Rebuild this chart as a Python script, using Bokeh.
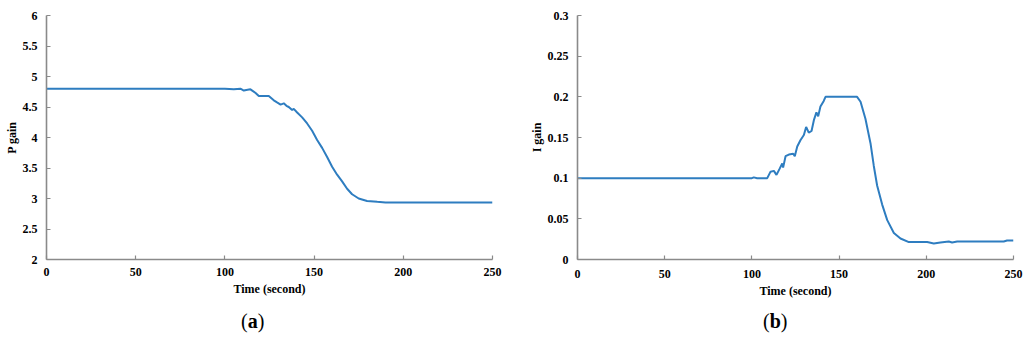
from bokeh.plotting import figure
from bokeh.layouts import row, column
from bokeh.models import Range1d, FixedTicker, CustomJSTickFormatter, Div
from bokeh.embed import file_html
from bokeh.resources import INLINE

# ---- data: panel (a) P gain ----
t_a = [0, 100, 105, 108.7, 110.6, 112, 114.3, 117.2, 119, 122, 124.6, 127.4, 129, 131.2,
       133, 134.5, 135.8, 137.7, 138.6, 140.5, 143.3, 146.1, 148.9, 151.7, 154.5, 157.3,
       160.1, 162.9, 165.7, 168.5, 171.3, 175, 179.7, 185.4, 190, 250]
p_a = [4.8, 4.8, 4.79, 4.8, 4.77, 4.78, 4.79, 4.73, 4.68, 4.68, 4.68, 4.61, 4.58, 4.54,
       4.56, 4.52, 4.50, 4.45, 4.47, 4.41, 4.33, 4.23, 4.11, 3.96, 3.83, 3.68,
       3.52, 3.39, 3.28, 3.16, 3.07, 3.00, 2.96, 2.945, 2.935, 2.935]

# ---- data: panel (b) I gain ----
t_b = [0, 100, 101.1, 103, 105, 108.8, 110.7, 112.6, 114.1, 116, 117.4, 117.9,
       119.3, 121.2, 123.7, 124.6, 126, 127.9, 129.8, 131.1, 132.6, 134.2, 135.5, 137,
       138, 139.3, 141.2, 142.2, 160.3, 162.3, 165.1, 168, 169.9, 171.8, 174.7, 177.6,
       181.4, 185.2, 190, 200.5, 204.3, 208.1, 212.9, 214.8, 217.7, 244.4, 246.3, 250]
i_b = [0.1, 0.1, 0.101, 0.1, 0.1, 0.1, 0.108, 0.109, 0.104, 0.112, 0.118, 0.113,
       0.127, 0.129, 0.130, 0.127, 0.139, 0.147, 0.153, 0.163, 0.156, 0.158, 0.171, 0.181,
       0.176, 0.188, 0.195, 0.2, 0.2, 0.194, 0.173, 0.143, 0.115, 0.091, 0.0675, 0.0484,
       0.0325, 0.0258, 0.0214, 0.0214, 0.0198, 0.021, 0.0222, 0.021, 0.022, 0.0222, 0.0234, 0.0234]

x_ticks = [0, 50, 100, 150, 200, 250]
y_ticks_a = [2, 2.5, 3, 3.5, 4, 4.5, 5, 5.5, 6]
y_ticks_b = [0, 0.05, 0.1, 0.15, 0.2, 0.25, 0.3]

FONT = "Liberation Serif"
LINE = "#2e7dc0"
AXIS = "#8a8a8a"


def style(p, yticks, xlab_standoff):
    p.outline_line_color = None
    p.xgrid.visible = False
    p.ygrid.visible = False
    p.background_fill_color = "white"
    p.border_fill_color = "white"
    p.xaxis.ticker = FixedTicker(ticks=x_ticks)
    p.yaxis.ticker = FixedTicker(ticks=yticks)
    p.yaxis.formatter = CustomJSTickFormatter(code="return tick.toString()")
    for ax in (p.xaxis[0], p.yaxis[0]):
        ax.axis_line_color = AXIS
        ax.axis_line_width = 1.6
        ax.major_tick_line_color = AXIS
        ax.major_tick_line_width = 1.2
        ax.major_tick_in = 4
        ax.major_tick_out = 0
        ax.minor_tick_line_color = None
        ax.major_label_text_font = FONT
        ax.major_label_text_font_style = "bold"
        ax.major_label_text_font_size = "12px"
        ax.major_label_text_color = "black"
        ax.axis_label_text_font = FONT
        ax.axis_label_text_font_style = "bold"
        ax.axis_label_text_font_size = "12px"
        ax.axis_label_text_color = "black"
    p.xaxis.axis_label = "Time (second)"
    p.xaxis.major_label_standoff = xlab_standoff
    p.xaxis.axis_label_standoff = 3
    p.yaxis.major_label_standoff = 9
    p.yaxis.axis_label_standoff = 1


def panel_div(letter, width, pad_left):
    return Div(text="(<b>%s</b>)" % letter, width=width, height=36,
               styles={"font-family": FONT, "font-size": "20px", "color": "black",
                       "padding-left": "%dpx" % pad_left, "padding-top": "5px",
                       "box-sizing": "border-box", "line-height": "22px"})


# left panel
p1 = figure(width=526, height=300, x_range=Range1d(0, 250), y_range=Range1d(2, 6),
            output_backend="svg", toolbar_location=None,
            min_border_left=46, min_border_right=34, min_border_top=15, min_border_bottom=41)
p1.line(t_a, p_a, line_color=LINE, line_width=2)
style(p1, y_ticks_a, 8)
p1.yaxis.axis_label = "P gain"

# right panel
p2 = figure(width=498, height=300, x_range=Range1d(0, 250), y_range=Range1d(0, 0.3),
            output_backend="svg", toolbar_location=None,
            min_border_left=51, min_border_right=11, min_border_top=8, min_border_bottom=40)
p2.line(t_b, i_b, line_color=LINE, line_width=2)
style(p2, y_ticks_b, 10)
p2.yaxis.axis_label = "I gain"

labels = row(panel_div("a", 500, 236), panel_div("b", 515, 248), spacing=0)
layout = column(row(p1, p2, spacing=0), labels, spacing=0)
open("out.html", "w").write(file_html(layout, INLINE))
